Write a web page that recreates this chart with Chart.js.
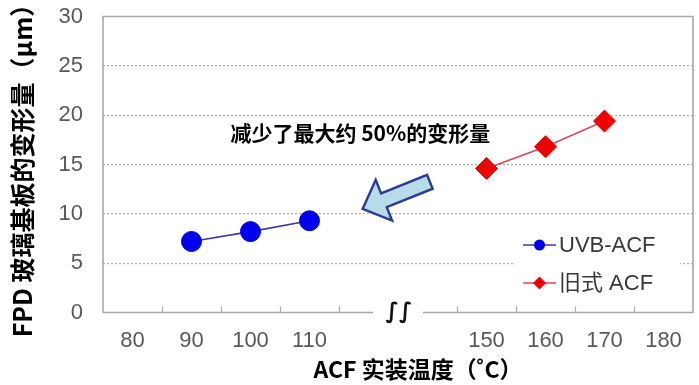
<!DOCTYPE html>
<html>
<head>
<meta charset="utf-8">
<script src="https://cdn.jsdelivr.net/npm/chart.js@4/dist/chart.umd.min.js"></script>
<style>
  html, body { margin: 0; padding: 0; background: #ffffff; }
  #wrap { width: 699px; height: 385px; }
</style>
</head>
<body>
<div id="wrap"><canvas id="chart" width="699" height="385"></canvas></div>
<script>
// Mounting temperature categories (two blank slots form the axis break)
const temperatureLabels = ['80', '90', '100', '110', '', '', '150', '160', '170', '180'];
const yTickValues = [0, 5, 10, 15, 20, 25, 30];

// UVB-ACF (low temperature) deformation, μm
const uvbTemps = ['90', '100', '110'];
const uvbValues = [7.2, 8.2, 9.3];

// Conventional ACF deformation, μm
const legacyTemps = ['150', '160', '170'];
const legacyValues = [14.6, 16.8, 19.4];

const seriesNames = ['UVB-ACF', '旧式 ACF'];
const xTitle = 'ACF 实装温度（˚C）';
const yTitle = 'FPD 玻璃基板的变形量（μm）';
const noteText = '减少了最大约 50%的变形量';

// Annotation anchors in data space (category index, μm)
const breakAt = 4.5;
const noteAnchor = { x: 1.66, y: 18.2 };
const arrowTip = { x: 3.9, y: 10.5 };
const arrowTail = { x: 5.04, y: 13.25 };

const FONT_LATIN = "'Liberation Sans', Arial, 'Noto Sans CJK SC', sans-serif";
const FONT_CJK = "'Noto Sans CJK SC', 'Liberation Sans', sans-serif";
const FRAME = '#a8a8a8';

const uvbColor = { line: '#3a3aa0', fill: '#0000ee', edge: '#0000d8' };
const legacyColor = { line: '#d44a5c', fill: '#f00000', edge: '#e00000' };

const extras = {
  id: 'extras',
  afterDatasetsDraw(chart) {
    const { ctx, chartArea: a, scales: { x, y } } = chart;
    ctx.save();

    // plot frame (bottom edge interrupted at the break)
    const gapC = x.getPixelForValue(breakAt);
    const gapHalf = 25;
    ctx.strokeStyle = FRAME;
    ctx.lineWidth = 1.6;
    ctx.beginPath();
    ctx.moveTo(a.left, a.bottom);
    ctx.lineTo(a.left, a.top);
    ctx.lineTo(a.right, a.top);
    ctx.lineTo(a.right, a.bottom);
    ctx.lineTo(gapC + gapHalf, a.bottom);
    ctx.moveTo(gapC - gapHalf, a.bottom);
    ctx.lineTo(a.left, a.bottom);
    ctx.stroke();

    // inward tick marks between categories
    ctx.lineWidth = 1.2;
    ctx.beginPath();
    for (let i = 0; i < temperatureLabels.length - 1; i++) {
      const v = i + 0.5;
      if (v === breakAt) continue;
      const px = Math.round(x.getPixelForValue(v)) + 0.5;
      ctx.moveTo(px, a.bottom);
      ctx.lineTo(px, a.bottom - 6);
    }
    ctx.stroke();

    // axis break symbol
    ctx.fillStyle = '#111111';
    ctx.font = "bold 22px 'DejaVu Sans', sans-serif";
    ctx.textAlign = 'center';
    ctx.textBaseline = 'middle';
    ctx.fillText('∫∫', gapC + 1, a.bottom);

    // x axis title, drawn in the space reserved by the x scale
    ctx.fillStyle = '#000000';
    ctx.font = "bold 23px " + FONT_CJK;
    ctx.textAlign = 'center';
    ctx.textBaseline = 'middle';
    ctx.fillText(xTitle, (a.left + a.right) / 2 + 20, a.bottom + 57);

    // block arrow pointing back toward the UVB-ACF series
    const tx = x.getPixelForValue(arrowTip.x), ty = y.getPixelForValue(arrowTip.y);
    const ex = x.getPixelForValue(arrowTail.x), ey = y.getPixelForValue(arrowTail.y);
    const len = Math.hypot(ex - tx, ey - ty);
    const dx = (ex - tx) / len, dy = (ey - ty) / len;
    const nx = -dy, ny = dx;
    const headLen = 23, headHalf = 22, shaftHalf = 7.5;
    const pt = (s, t) => [tx + dx * s + nx * t, ty + dy * s + ny * t];
    const poly = [
      pt(0, 0), pt(headLen, -headHalf), pt(headLen, -shaftHalf), pt(len, -shaftHalf),
      pt(len, shaftHalf), pt(headLen, shaftHalf), pt(headLen, headHalf)
    ];
    ctx.beginPath();
    poly.forEach(([px, py], i) => i ? ctx.lineTo(px, py) : ctx.moveTo(px, py));
    ctx.closePath();
    ctx.fillStyle = '#b6dce9';
    ctx.fill();
    ctx.strokeStyle = '#2c3996';
    ctx.lineWidth = 2.4;
    ctx.lineJoin = 'miter';
    ctx.stroke();

    // annotation text
    ctx.fillStyle = '#000000';
    ctx.font = "bold 21px " + FONT_CJK;
    ctx.textAlign = 'left';
    ctx.textBaseline = 'middle';
    ctx.fillText(noteText, x.getPixelForValue(noteAnchor.x), y.getPixelForValue(noteAnchor.y));

    // legend box in the lower right of the plot
    const boxL = a.right - 179, boxR = a.right - 13, boxT = a.bottom - 82, boxB = a.bottom - 14;
    ctx.fillStyle = '#ffffff';
    ctx.fillRect(boxL, boxT, boxR - boxL, boxB - boxT);
    const rows = [a.bottom - 67.5, a.bottom - 29.5];
    chart.data.datasets.forEach((ds, i) => {
      const ry = rows[i];
      const lx0 = boxL + 9, lx1 = boxL + 42, mx = (lx0 + lx1) / 2;
      ctx.strokeStyle = ds.borderColor;
      ctx.lineWidth = 1.6;
      ctx.beginPath();
      ctx.moveTo(lx0, ry);
      ctx.lineTo(lx1, ry);
      ctx.stroke();
      ctx.fillStyle = ds.pointBackgroundColor;
      ctx.beginPath();
      if (ds.pointStyle === 'rectRot') {
        const r = 6.5;
        ctx.moveTo(mx, ry - r); ctx.lineTo(mx + r, ry); ctx.lineTo(mx, ry + r); ctx.lineTo(mx - r, ry);
        ctx.closePath();
      } else {
        ctx.arc(mx, ry, 5.5, 0, Math.PI * 2);
      }
      ctx.fill();
      ctx.fillStyle = '#383838';
      ctx.font = "22px " + FONT_LATIN;
      ctx.textAlign = 'left';
      ctx.textBaseline = 'middle';
      ctx.fillText(ds.label, boxL + 45, ry + 1);
    });

    ctx.restore();
  }
};

new Chart(document.getElementById('chart'), {
  type: 'line',
  data: {
    labels: temperatureLabels,
    datasets: [
      {
        label: seriesNames[0],
        data: uvbTemps.map((t, i) => ({ x: t, y: uvbValues[i] })),
        borderColor: uvbColor.line,
        borderWidth: 1.6,
        pointStyle: 'circle',
        pointRadius: 10,
        pointHoverRadius: 10,
        pointBackgroundColor: uvbColor.fill,
        pointBorderColor: uvbColor.edge,
        pointBorderWidth: 1
      },
      {
        label: seriesNames[1],
        data: legacyTemps.map((t, i) => ({ x: t, y: legacyValues[i] })),
        borderColor: legacyColor.line,
        borderWidth: 1.6,
        pointStyle: 'rectRot',
        pointRadius: 11,
        pointHoverRadius: 11,
        pointBackgroundColor: legacyColor.fill,
        pointBorderColor: legacyColor.edge,
        pointBorderWidth: 1
      }
    ]
  },
  options: {
    responsive: false,
    devicePixelRatio: 1,
    animation: false,
    events: [],
    layout: { autoPadding: false, padding: { top: 16.5, right: 6, bottom: 0, left: 0 } },
    plugins: { legend: { display: false }, tooltip: { enabled: false } },
    scales: {
      x: {
        type: 'category',
        offset: true,
        grid: { display: false },
        border: { display: false },
        ticks: {
          color: '#595959',
          font: { family: FONT_LATIN, size: 22 },
          padding: 7,
          autoSkip: false,
          maxRotation: 0
        },
        title: { display: false },
        afterFit(scale) {
          scale.height = 72.5;
          scale.paddingLeft = 0;
          scale.paddingRight = 0;
        }
      },
      y: {
        min: 0,
        max: 30,
        afterBuildTicks(scale) { scale.ticks = yTickValues.map(v => ({ value: v })); },
        grid: {
          drawTicks: false,
          lineWidth: 1.2,
          color: c => (c.tick && (c.tick.value === 0 || c.tick.value === 30)) ? 'rgba(0,0,0,0)' : '#a9a9a9'
        },
        border: { display: false, dash: [2, 2] },
        ticks: {
          color: '#595959',
          font: { family: FONT_LATIN, size: 22 },
          padding: 20
        },
        title: {
          display: true,
          text: yTitle,
          color: '#000000',
          font: { family: FONT_CJK, size: 25, weight: 'bold' },
          padding: { top: 7, bottom: 0 }
        },
        afterFit(scale) {
          scale.width = 103;
          scale.paddingTop = 0;
          scale.paddingBottom = 0;
        }
      }
    }
  },
  plugins: [extras]
});
</script>
</body>
</html>
